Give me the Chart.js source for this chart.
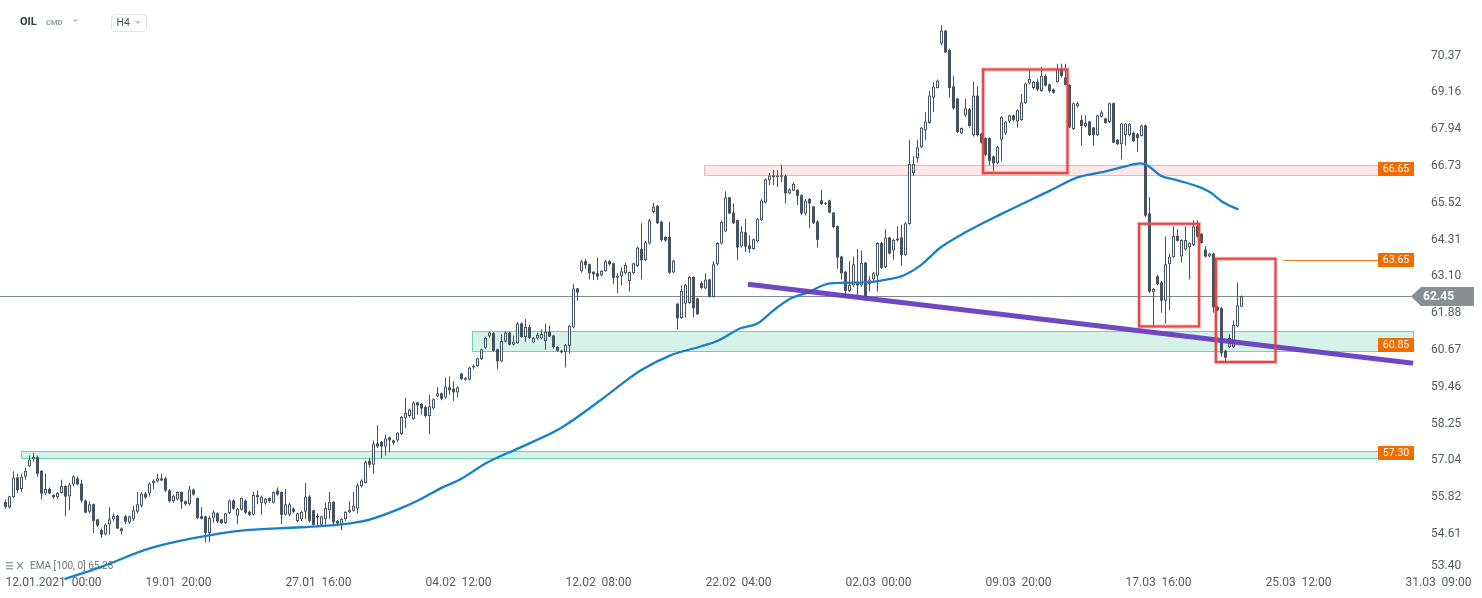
<!DOCTYPE html>
<html><head><meta charset="utf-8">
<script src="https://cdn.jsdelivr.net/npm/chart.js@4.4.0/dist/chart.umd.min.js"></script>
<style>html,body{margin:0;padding:0;background:#fff;}canvas{display:block;}</style>
</head><body>
<canvas id="c" width="1482" height="598"></canvas>
<script>
// ---------------- DATA ----------------
const xTickIndex = [0, 35, 70, 105, 140, 175, 210, 245, 280, 315, 350];
const xTickLabels = ['12.01.2021  00:00','19.01  20:00','27.01  16:00','04.02  12:00','12.02  08:00','22.02  04:00','02.03  00:00','09.03  20:00','17.03  16:00','25.03  12:00','31.03  09:00'];
const yTickLabels = ['53.40','54.61','55.82','57.04','58.25','59.46','60.67','61.88','63.10','64.31','65.52','66.73','67.94','69.16','70.37'];

const opens = [
55.67,55.51,55.84,56.48,56.10,56.50,56.85,57.07,57.15,56.70,
55.95,56.10,55.90,55.83,55.97,56.20,55.85,56.25,56.45,56.28,
55.72,55.35,55.60,55.10,54.75,54.60,54.93,55.10,55.22,54.80,
55.20,55.00,55.10,55.35,55.55,55.95,55.95,56.30,56.35,56.45,
56.45,56.05,55.70,55.75,56.00,55.70,55.60,56.08,55.80,55.20,
55.20,54.65,55.15,55.30,55.10,54.98,55.30,55.72,55.22,55.42,
55.72,55.35,55.25,55.90,55.63,55.62,55.80,55.65,56.05,56.00,
55.25,55.25,55.45,55.05,55.10,55.35,55.85,55.40,55.15,54.92,
55.10,55.40,55.68,55.05,54.90,55.10,55.33,55.38,55.45,56.20,
56.30,57.03,56.90,57.60,57.65,57.50,57.80,57.70,57.70,57.90,
58.43,58.50,58.40,58.95,58.90,58.80,58.50,58.75,59.15,59.25,
59.10,59.45,59.40,59.28,59.90,59.75,59.70,60.10,60.15,60.38,
60.75,61.12,61.23,60.70,60.30,60.95,61.25,60.85,60.90,61.55,
61.10,61.43,60.92,61.05,61.05,60.97,61.27,61.15,60.78,60.65,
60.60,60.80,61.42,62.70,63.27,63.60,63.50,63.25,63.20,63.13,
63.28,63.60,63.53,63.05,63.10,63.20,62.95,63.20,63.43,64.00,
63.63,64.18,65.22,65.42,64.90,64.40,64.40,63.23,62.20,61.72,
62.20,62.22,63.08,62.37,62.88,62.70,63.00,62.42,63.50,64.18,
64.58,65.70,65.20,64.95,64.08,64.55,64.12,64.00,64.25,64.95,
65.52,66.26,66.42,66.37,66.42,66.40,65.83,65.92,65.95,65.77,
65.17,65.65,65.40,64.90,65.60,65.48,65.60,65.20,64.75,63.75,
63.25,62.62,62.80,62.90,62.80,63.55,62.85,63.00,63.12,64.20,
63.40,64.38,63.95,64.28,64.38,63.80,64.82,66.50,67.00,67.35,
67.90,68.15,68.98,69.30,70.76,71.19,70.55,69.35,68.95,67.80,
68.40,68.60,67.75,69.05,67.80,67.65,67.65,67.05,66.82,67.60,
67.80,68.20,68.40,68.20,68.25,68.80,69.45,69.30,69.50,69.20,
69.70,69.42,69.25,69.50,69.93,69.65,69.40,67.95,68.70,68.25,
68.05,68.20,68.00,67.75,68.35,68.30,68.18,68.80,67.60,67.45,
67.75,67.75,67.82,67.78,67.72,68.07,65.17,62.58,63.10,62.90,
62.30,63.50,63.73,64.43,63.75,63.98,64.05,64.13,64.75,64.50,
63.98,63.75,63.85,62.10,62.05,60.65,60.77,60.77,61.45,62.10];

const highs = [
55.75,55.88,56.68,56.60,56.60,56.80,57.20,57.30,57.20,56.72,
56.60,56.15,55.93,56.00,56.40,56.22,56.30,56.55,56.52,56.40,
55.75,55.70,55.62,55.12,54.80,54.96,55.50,55.30,55.25,54.83,
55.25,55.22,55.55,56.00,56.00,56.00,56.32,56.42,56.60,56.60,
56.50,56.10,55.92,56.02,56.02,55.72,56.20,56.12,55.82,55.50,
55.22,55.20,55.40,55.33,55.12,55.32,55.75,55.76,55.48,55.82,
55.75,55.38,56.02,56.05,55.88,55.80,55.82,56.02,56.15,56.02,
56.10,55.65,55.50,55.32,55.38,56.30,55.90,55.42,55.30,55.22,
55.65,56.00,55.70,55.08,55.14,55.37,55.70,56.00,56.30,56.42,
57.05,57.12,57.70,58.20,57.68,57.90,57.83,57.72,57.98,58.50,
59.10,58.75,58.98,58.97,58.92,58.85,59.20,59.08,59.45,59.28,
59.75,59.80,59.65,59.48,59.93,59.78,60.12,60.20,60.42,60.72,
61.12,61.28,61.26,60.72,61.20,61.30,61.27,61.15,61.60,61.58,
61.70,61.50,61.10,61.25,61.35,61.55,61.48,61.17,60.80,60.68,
60.87,61.50,62.85,62.72,63.65,63.68,63.52,63.27,63.70,63.30,
63.65,63.65,63.55,63.20,63.40,63.55,63.25,63.55,64.08,64.85,
64.26,65.00,65.52,65.45,64.93,64.42,64.90,63.65,62.22,62.80,
62.85,63.10,63.10,62.40,62.95,63.20,63.02,63.60,64.22,64.95,
65.90,65.72,65.50,64.97,64.75,65.00,64.45,64.35,65.02,65.65,
66.32,66.50,66.60,66.60,66.78,66.45,66.00,66.20,65.97,65.80,
65.65,65.68,65.42,64.95,65.95,65.55,65.62,65.22,64.78,63.78,
63.28,63.60,63.75,64.00,63.95,63.57,63.10,63.25,64.22,64.23,
64.65,64.40,64.35,64.75,64.80,64.88,67.60,67.05,67.60,68.02,
68.50,69.20,69.50,69.58,71.36,71.20,70.60,69.70,68.98,68.00,
68.95,68.65,69.50,69.35,67.82,67.68,67.68,67.08,67.40,68.37,
68.22,68.42,68.42,68.60,69.10,69.48,69.90,69.52,69.60,70.00,
69.75,69.45,69.28,70.10,70.10,70.10,69.42,68.82,68.85,68.40,
68.40,68.22,68.02,68.42,68.55,68.32,68.82,68.82,67.62,68.15,
68.15,68.15,67.88,67.82,68.10,68.10,65.70,62.72,63.15,62.95,
64.40,63.85,64.75,64.65,64.32,64.75,64.22,64.95,64.95,64.52,
64.10,63.88,63.88,62.12,62.10,60.68,61.20,61.65,62.90,62.47];

const lows = [
55.45,55.45,55.80,55.98,56.00,56.40,56.82,57.00,56.50,55.75,
55.90,55.93,55.78,55.78,55.95,55.20,55.40,56.20,56.22,55.65,
55.30,55.30,54.65,54.85,54.50,54.58,54.60,55.05,54.78,54.60,
54.95,54.95,55.05,55.30,55.50,55.78,55.85,56.10,56.32,56.36,
56.00,55.65,55.65,55.72,55.45,55.55,55.55,55.88,55.10,55.10,
54.35,54.35,55.00,54.98,54.95,54.95,55.28,55.42,54.95,55.38,
55.28,55.20,55.23,55.60,55.25,55.58,55.65,55.62,55.88,54.95,
55.23,55.20,55.30,55.00,55.05,55.10,55.00,54.90,54.90,54.88,
54.90,55.10,54.95,54.94,54.75,55.05,55.30,55.35,55.30,56.15,
56.28,56.80,56.60,57.45,57.10,57.20,57.30,57.55,57.65,57.88,
58.10,58.45,58.38,58.55,58.55,58.45,57.90,58.72,59.12,59.02,
59.08,59.20,59.00,59.10,59.68,59.66,59.68,60.05,60.12,60.35,
60.72,61.08,60.62,60.05,60.27,60.92,60.82,60.82,60.88,61.08,
60.95,61.04,60.90,61.02,61.03,60.68,61.10,60.72,60.62,60.57,
60.10,60.55,61.38,62.30,63.22,63.35,63.00,62.98,62.98,63.10,
63.25,63.45,62.85,62.55,62.80,63.17,62.60,63.18,63.40,63.00,
63.60,64.15,65.18,64.82,64.25,64.25,63.18,63.20,61.35,61.70,
61.75,62.20,61.75,61.83,62.68,62.68,62.40,62.40,63.45,64.15,
64.55,65.15,64.82,63.65,64.05,63.90,63.88,63.98,64.22,64.92,
65.50,66.10,66.10,66.05,66.20,65.50,65.80,65.90,65.45,65.12,
65.10,64.70,64.82,64.05,65.45,65.45,65.18,64.68,63.35,63.00,
62.45,62.58,62.75,62.40,62.75,62.30,62.60,62.95,62.60,63.35,
63.37,63.82,63.65,64.25,63.45,63.78,64.80,66.40,66.85,67.32,
67.60,68.12,68.50,69.28,70.70,70.45,69.00,68.60,67.82,67.78,
68.35,68.00,67.70,67.70,67.48,67.05,66.75,66.55,66.78,66.90,
67.75,68.15,68.20,68.00,68.22,68.78,69.42,69.25,69.20,69.18,
69.35,69.15,69.10,69.48,69.65,69.38,67.98,67.92,68.65,67.40,
68.00,67.72,67.40,67.72,68.32,68.12,68.15,67.48,67.42,66.95,
67.40,67.70,67.52,67.20,67.70,65.05,62.55,61.45,62.80,61.90,
61.55,61.98,63.70,64.25,63.55,63.95,63.00,64.10,64.38,64.18,
63.72,63.72,61.90,61.95,60.45,60.30,60.74,60.74,61.42,62.08];

const closes = [
55.51,55.86,56.48,56.06,56.50,56.70,57.07,57.15,56.60,55.95,
56.10,55.95,55.83,55.97,56.20,55.85,56.25,56.52,56.25,55.72,
55.32,55.60,55.05,54.90,54.60,54.93,55.10,55.22,54.80,54.72,
55.02,55.20,55.40,55.60,55.95,55.82,56.28,56.38,56.45,56.38,
56.05,55.70,55.88,56.00,55.68,55.60,56.08,55.92,55.14,55.12,
54.65,55.15,55.33,55.03,54.98,55.30,55.72,55.45,55.45,55.80,
55.32,55.25,55.90,55.83,55.85,55.78,55.70,56.00,55.92,55.25,
55.60,55.60,55.35,55.30,55.35,55.85,55.05,54.92,55.22,55.20,
55.47,55.68,55.00,54.97,55.12,55.35,55.42,55.55,56.22,56.38,
57.00,56.90,57.60,57.50,57.50,57.77,57.70,57.62,57.95,58.47,
58.60,58.72,58.95,58.85,58.75,58.50,58.82,59.05,59.25,59.07,
59.47,59.35,59.28,59.45,59.72,59.70,60.10,60.15,60.40,60.70,
61.08,61.25,60.65,60.30,60.97,61.25,60.85,60.95,61.55,61.10,
61.43,61.07,61.07,61.17,61.20,61.28,61.12,60.77,60.65,60.60,
60.85,61.47,62.70,62.57,63.60,63.47,63.20,63.17,63.10,63.28,
63.60,63.50,63.05,63.13,63.27,63.47,63.25,63.53,64.05,63.63,
64.22,64.95,65.40,64.85,64.30,64.28,63.22,63.62,61.72,62.63,
62.82,63.08,62.05,61.85,62.72,63.00,62.42,63.50,64.20,64.90,
65.70,65.17,64.85,64.05,64.58,64.08,64.00,64.32,65.00,65.60,
66.30,66.42,66.37,66.42,66.38,65.83,65.97,66.15,65.75,65.17,
65.60,65.50,64.85,64.30,65.48,65.52,65.20,64.72,63.72,63.20,
62.62,62.82,63.50,62.80,63.55,62.45,63.00,63.20,64.20,63.38,
64.38,63.85,64.30,64.35,63.80,64.85,66.80,66.80,67.35,68.00,
68.20,69.05,69.35,69.55,71.19,70.47,69.30,68.63,67.85,67.98,
68.63,68.05,69.05,67.75,67.50,67.10,66.90,66.82,67.37,68.35,
68.20,68.40,68.25,68.57,68.83,69.45,69.60,69.50,69.25,69.70,
69.38,69.20,69.15,69.93,69.70,69.40,68.00,68.80,68.80,68.05,
68.15,67.75,67.75,68.40,68.50,68.15,68.80,67.50,67.45,68.13,
68.13,68.12,67.55,67.65,68.07,65.10,62.60,62.68,62.85,62.30,
63.50,63.75,64.43,64.27,64.30,64.30,64.20,64.75,64.40,64.20,
63.75,63.85,62.08,61.98,60.57,60.42,61.07,61.50,62.15,62.45];

// EMA(100,0) at sample candles
const emaIndex  = [14.75,23.75,36.25,47,59.5,73.75,86.25,91.25,98.75,103.75,108.75,113.75,120,128.75,138.75,148.75,158.75,166.25,173.75,178.25,183.75,188,192,196.25,200,206.25,215.5,220.5,224.5,228.75,233.75,240,248.75,261.25,268,273.75,280,283.75,285.5,288.75,293,298,301.25,304.5,308.25];
const emaValues = [53.13,53.53,54.15,54.48,54.74,54.84,54.97,55.10,55.46,55.76,56.12,56.42,56.94,57.47,58.10,59.02,60.00,60.50,60.79,60.99,61.39,61.55,61.98,62.37,62.54,62.87,62.90,63.00,63.13,63.46,64.05,64.55,65.14,65.93,66.36,66.52,66.72,66.82,66.75,66.42,66.26,66.06,65.86,65.53,65.30];
const emaLegend = 'EMA [100, 0] 65.28';

// purple trend line
const trendIndex  = [185.6, 351.9];
const trendValues = [62.84, 60.24];

// support / resistance zones
const zoneFrom = [174.6, 116.6, 3.9];
const zoneTo   = [351.9, 351.9, 351.9];
const zoneLow  = [66.42, 60.63, 57.11];
const zoneHigh = [66.75, 61.29, 57.34];

// level tags
const levelValues = [66.65, 63.65, 60.85, 57.30];
const alertFrom = 319.4;      // start of the thin line at 63.65
const lastPrice = 62.45;

// red rectangles
const boxFrom = [244.4, 283.4, 302.6];
const boxTo   = [265.5, 298.4, 317.5];
const boxLow  = [66.50, 61.45, 60.28];
const boxHigh = [69.91, 64.83, 63.68];

// ---------------- STYLES ----------------
const CANDLE = '#44535d';
const zoneStyle = [
  {fill:'#fde7e7', line:'#f4b4b4'},
  {fill:'#d6f3ea', line:'#6cd4b0'},
  {fill:'#d6f3ea', line:'#6cd4b0'}
];
const yTickValues = yTickLabels.map(parseFloat);
const Y_MIN = 53.40, Y_MAX = 72.0;
if (yTickValues[0] - Y_MIN < 0.15) yTickValues[0] = Y_MIN + 0.17;

const isUp = i => closes[i] >= opens[i];

const overlay = {
  id: 'overlay',
  beforeDatasetsDraw(chart) {
    const {ctx, chartArea, scales: {x, y}} = chart;
    ctx.save();
    for (let k = 0; k < zoneLow.length; k++) {
      const x0 = Math.round(x.getPixelForValue(zoneFrom[k])) + 0.5;
      const x1 = Math.round(x.getPixelForValue(zoneTo[k])) + 0.5;
      const y0 = Math.round(y.getPixelForValue(zoneHigh[k])) + 0.5;
      const y1 = Math.round(y.getPixelForValue(zoneLow[k])) + 0.5;
      ctx.fillStyle = zoneStyle[k].fill;
      ctx.fillRect(x0, y0, x1 - x0, y1 - y0);
      ctx.strokeStyle = zoneStyle[k].line;
      ctx.lineWidth = 1;
      ctx.strokeRect(x0, y0, x1 - x0, y1 - y0);
    }
    const yp = Math.round(y.getPixelForValue(lastPrice)) + 0.5;
    ctx.strokeStyle = '#7f8b91';
    ctx.lineWidth = 1;
    ctx.beginPath(); ctx.moveTo(chartArea.left, yp); ctx.lineTo(chartArea.right - 11, yp); ctx.stroke();
    // legend bottom-left
    ctx.fillStyle = '#9aa3a8';
    ctx.fillRect(6, 562, 7, 1.5); ctx.fillRect(6, 565, 7, 1.5); ctx.fillRect(6, 568, 7, 1.5);
    ctx.strokeStyle = '#9aa3a8'; ctx.lineWidth = 1.6;
    ctx.beginPath(); ctx.moveTo(17, 562); ctx.lineTo(23, 569); ctx.moveTo(23, 562); ctx.lineTo(17, 569); ctx.stroke();
    ctx.fillStyle = '#6f777c';
    ctx.font = '10px Roboto';
    ctx.textBaseline = 'middle'; ctx.textAlign = 'left';
    ctx.fillText(emaLegend, 30, 566);
    ctx.restore();
  },
  afterDatasetsDraw(chart) {
    const {ctx, scales: {x, y}} = chart;
    ctx.save();
    for (let k = 0; k < boxFrom.length; k++) {
      const x0 = x.getPixelForValue(boxFrom[k]);
      const x1 = x.getPixelForValue(boxTo[k]);
      const y0 = y.getPixelForValue(boxHigh[k]);
      const y1 = y.getPixelForValue(boxLow[k]);
      ctx.strokeStyle = 'rgba(235,70,70,0.35)'; ctx.lineWidth = 4;
      ctx.strokeRect(x0, y0, x1 - x0, y1 - y0);
      ctx.strokeStyle = '#e64545'; ctx.lineWidth = 2;
      ctx.strokeRect(x0, y0, x1 - x0, y1 - y0);
    }
    ctx.restore();
  },
  afterDraw(chart) {
    const {ctx, chartArea, scales: {x, y}} = chart;
    ctx.save();
    const boxR = Math.round(x.getPixelForValue(351.9)) + 1;
    const boxW = 36, boxH = 14;
    ctx.font = '10.5px Roboto';
    ctx.textBaseline = 'middle'; ctx.textAlign = 'center';
    levelValues.forEach(v => {
      const yc = Math.round(y.getPixelForValue(v));
      if (v === 63.65) {
        ctx.strokeStyle = '#f07a10'; ctx.lineWidth = 1;
        ctx.beginPath();
        ctx.moveTo(x.getPixelForValue(alertFrom), yc + 0.5);
        ctx.lineTo(boxR - boxW, yc + 0.5);
        ctx.stroke();
      }
      ctx.fillStyle = '#ef6c00';
      ctx.fillRect(boxR - boxW, yc - boxH / 2, boxW, boxH);
      ctx.fillStyle = '#ffffff';
      ctx.fillText(v.toFixed(2), boxR - boxW / 2, yc + 0.5);
    });
    // last price tag
    const yc = Math.round(y.getPixelForValue(lastPrice)) + 0.5;
    const tx = chartArea.right - 11;
    ctx.fillStyle = '#868f94';
    ctx.beginPath();
    ctx.moveTo(tx, yc);
    ctx.lineTo(tx + 10, yc - 9.5);
    ctx.lineTo(1474, yc - 9.5);
    ctx.lineTo(1474, yc + 9.5);
    ctx.lineTo(tx + 10, yc + 9.5);
    ctx.closePath(); ctx.fill();
    ctx.fillStyle = '#ffffff';
    ctx.font = 'bold 12px Roboto';
    ctx.textAlign = 'left';
    ctx.fillText(lastPrice.toFixed(2), 1423, yc + 0.5);
    // header
    ctx.fillStyle = '#2f3b42';
    ctx.font = 'bold 11px Roboto';
    ctx.fillText('OIL', 20, 22);
    ctx.fillStyle = '#8d9aa2';
    ctx.font = 'bold 7.5px Roboto';
    ctx.fillText('CMD', 46, 23);
    ctx.fillStyle = '#c3c9cd';
    ctx.beginPath(); ctx.moveTo(72, 19.5); ctx.lineTo(78.5, 19.5); ctx.lineTo(75.25, 22.5); ctx.closePath(); ctx.fill();
    ctx.strokeStyle = '#e0e4e7'; ctx.lineWidth = 1;
    ctx.beginPath();
    if (ctx.roundRect) ctx.roundRect(111.5, 14.5, 35, 17, 3); else ctx.rect(111.5, 14.5, 35, 17);
    ctx.stroke();
    ctx.fillStyle = '#4a555c';
    ctx.font = '10.5px Roboto';
    ctx.fillText('H4', 116.5, 23);
    ctx.fillStyle = '#c3c9cd';
    ctx.beginPath(); ctx.moveTo(134.5, 21); ctx.lineTo(141, 21); ctx.lineTo(137.75, 24); ctx.closePath(); ctx.fill();
    ctx.restore();
  }
};

Chart.defaults.font.family = 'Roboto';

new Chart(document.getElementById('c'), {
  type: 'bar',
  data: {
    datasets: [
      {
        type: 'line', label: 'Trend',
        data: trendIndex.map((v, i) => ({x: v, y: trendValues[i]})),
        borderColor: 'rgba(102,58,190,0.93)', borderWidth: 5, pointRadius: 0,
        borderCapStyle: 'butt', order: 0
      },
      {
        type: 'line', label: 'EMA',
        data: emaIndex.map((v, i) => ({x: v, y: emaValues[i]})),
        borderColor: '#1680c8', borderWidth: 2.3, pointRadius: 0,
        cubicInterpolationMode: 'monotone', clip: false, order: 1
      },
      {
        type: 'bar', label: 'Body',
        data: opens.map((o, i) => ({x: i, y: [o, closes[i]]})),
        grouped: false, barThickness: 3, minBarLength: 1, inflateAmount: 0,
        borderSkipped: false,
        backgroundColor: c => isUp(c.dataIndex) ? '#ffffff' : CANDLE,
        borderColor: CANDLE,
        borderWidth: c => isUp(c.dataIndex) ? 1 : 0,
        order: 2
      },
      {
        type: 'bar', label: 'Wick',
        data: lows.map((l, i) => ({x: i, y: [l, highs[i]]})),
        grouped: false, barThickness: 1, inflateAmount: 0, borderWidth: 0,
        backgroundColor: CANDLE, order: 3
      }
    ]
  },
  options: {
    responsive: false, animation: false, devicePixelRatio: 1, events: [],
    layout: {padding: {top: 6, left: 0, right: 0, bottom: 0}},
    plugins: {legend: {display: false}, tooltip: {enabled: false}},
    scales: {
      x: {
        type: 'linear', min: -1.375, max: 354.125, offset: false,
        grid: {display: false}, border: {display: false},
        afterBuildTicks: s => { s.ticks = xTickIndex.map(v => ({value: v})); },
        afterFit: s => { s.height = 27; s.paddingLeft = 0; s.paddingRight = 0; },
        ticks: {
          autoSkip: false, maxRotation: 0, minRotation: 0, align: 'start', padding: -3,
          color: '#555b5f', font: {family: 'Roboto', size: 12},
          callback: (v, i) => xTickLabels[i]
        }
      },
      y: {
        type: 'linear', position: 'right', min: Y_MIN, max: Y_MAX, beginAtZero: false,
        grid: {display: false}, border: {display: false},
        afterBuildTicks: s => { s.ticks = yTickValues.map(v => ({value: v})); },
        afterFit: s => { s.width = 60; s.paddingTop = 0; s.paddingBottom = 0; },
        ticks: {
          padding: 1, color: '#555b5f', font: {family: 'Roboto', size: 12},
          callback: (v, i) => yTickLabels[i]
        }
      }
    }
  },
  plugins: [overlay]
});
</script>
</body></html>
